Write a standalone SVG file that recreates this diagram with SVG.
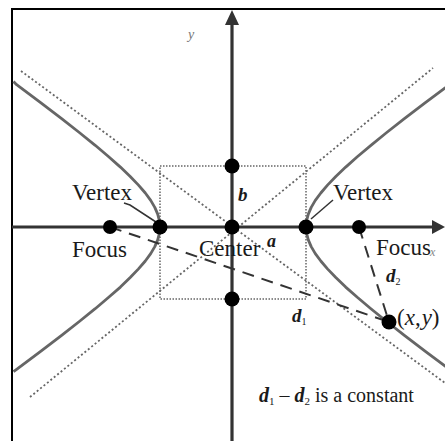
<svg xmlns="http://www.w3.org/2000/svg" width="445" height="441" viewBox="0 0 445 441">
<defs>
<style>
.lbl{font-family:"Liberation Serif","Times New Roman",serif;fill:#1a1a1a}
.big{font-size:23px}
.var{font-style:italic;font-weight:bold}
.axis{stroke:#333;stroke-width:3.2;fill:none}
.hyp{stroke:#666;stroke-width:2.8;fill:none;stroke-linejoin:round}
.asym{stroke:#666;stroke-width:1.8;stroke-dasharray:2 2.4;fill:none}
.box{stroke:#666;stroke-width:1.5;stroke-dasharray:1.5 1.5;fill:none}
.dash{stroke:#333;stroke-width:2;stroke-dasharray:12 8;fill:none}
.lead{stroke:#333;stroke-width:1.5;fill:none}
.pt{fill:#000}
</style>
</defs>
<rect width="445" height="441" fill="#fff"/>
<rect x="12" y="9" width="460" height="460" fill="none" stroke="#000" stroke-width="2"/>

<g id="guides">
<rect class="box" x="160" y="166" width="146" height="133"/>
<line class="asym" x1="21" y1="71" x2="445" y2="383"/>
<line class="asym" x1="30" y1="397" x2="433" y2="68"/>
</g>

<g id="hyperbola">
<path class="hyp" d="M449.4,84.7 L425.7,102.4 L404.7,118.4 L386.7,132.5 L370.9,145.3 L357.3,156.7 L345.7,167.1 L335.8,176.5 L327.5,185.1 L320.8,193 L315.3,200.4 L311.2,207.4 L308.3,214.1 L306.6,220.6 L306,227 L306.6,233.4 L308.3,239.9 L311.2,246.6 L315.3,253.6 L320.8,261 L327.5,268.9 L335.8,277.5 L345.7,287.1 L357.3,297.3 L370.9,308.7 L386.7,321.5 L404.7,335.6 L425.7,351.6 L449.4,369.3"/>
<path class="hyp" d="M13.5,81.6 L16.6,84.7 L40.3,102.4 L61.3,118.4 L79.3,132.5 L95.2,145.3 L108.7,156.7 L120.4,167.1 L130.2,176.5 L138.5,185.1 L145.3,193 L150.7,200.4 L154.8,207.4 L157.7,214.1 L159.4,220.6 L160,227 L159.4,233.4 L157.7,239.9 L154.8,246.6 L150.7,253.6 L145.3,261 L138.5,268.9 L130.2,277.5 L120.4,287.1 L108.7,297.3 L95.2,308.7 L79.3,321.5 L61.3,335.6 L40.3,351.6 L16.6,369.3 L13.5,371.6"/>
</g>

<g id="axes">
<line class="axis" x1="12" y1="227" x2="434" y2="227"/>
<polygon points="445,227 432,220 432,234" fill="#333"/>
<line class="axis" x1="232" y1="24" x2="232" y2="441"/>
<polygon points="232,10 225,25 239,25" fill="#333"/>
<text class="lbl" x="188" y="39" font-size="14" font-style="italic" style="fill:#777">y</text>
<text class="lbl" x="430" y="256" font-size="12" font-style="italic" style="fill:#888">x</text>
</g>

<g id="connectors">
<line class="dash" x1="110" y1="227" x2="389" y2="322"/>
<line class="dash" x1="359" y1="227" x2="389" y2="322"/>
<polyline class="lead" points="124,203 130,205 156,222"/>
<line class="lead" x1="333" y1="200" x2="311" y2="219"/>
</g>

<g id="left-focus"><circle class="pt" cx="110" cy="227" r="7"/><text class="lbl big" x="72" y="257">Focus</text></g>
<g id="left-vertex"><circle class="pt" cx="160" cy="227" r="7.5"/><text class="lbl big" x="72" y="200">Vertex</text></g>
<g id="center"><circle class="pt" cx="232" cy="227" r="7.5"/><text class="lbl big" x="199" y="256">Center</text></g>
<g id="right-vertex"><circle class="pt" cx="306" cy="227" r="7.5"/><text class="lbl big" x="333" y="200">Vertex</text></g>
<g id="right-focus"><circle class="pt" cx="359" cy="227" r="7"/><text class="lbl big" x="376" y="255">Focus</text></g>
<g id="b-point"><circle class="pt" cx="232" cy="166" r="7.5"/><text class="lbl var" x="238" y="201" font-size="19">b</text></g>
<g id="a-label"><text class="lbl var" x="267" y="247" font-size="18">a</text></g>
<g id="lower-point"><circle class="pt" cx="232" cy="299" r="7.5"/></g>
<g id="d1-label"><text class="lbl" x="292" y="322" font-size="19"><tspan class="var">d</tspan><tspan font-size="10" dy="3">1</tspan></text></g>
<g id="d2-label"><text class="lbl" x="386" y="282" font-size="19"><tspan class="var">d</tspan><tspan font-size="10" dy="3">2</tspan></text></g>
<g id="point-xy"><circle class="pt" cx="389" cy="322" r="7.5"/><text class="lbl" x="397" y="325" font-size="23">(<tspan font-style="italic">x</tspan>,<tspan font-style="italic" dx="1">y</tspan>)</text></g>
<g id="note"><text class="lbl" x="259" y="402" font-size="20"><tspan class="var">d</tspan><tspan font-size="11" dy="3">1</tspan><tspan dy="-3"> – </tspan><tspan class="var">d</tspan><tspan font-size="11" dy="3">2</tspan><tspan dy="-3"> is a constant</tspan></text></g>
</svg>
